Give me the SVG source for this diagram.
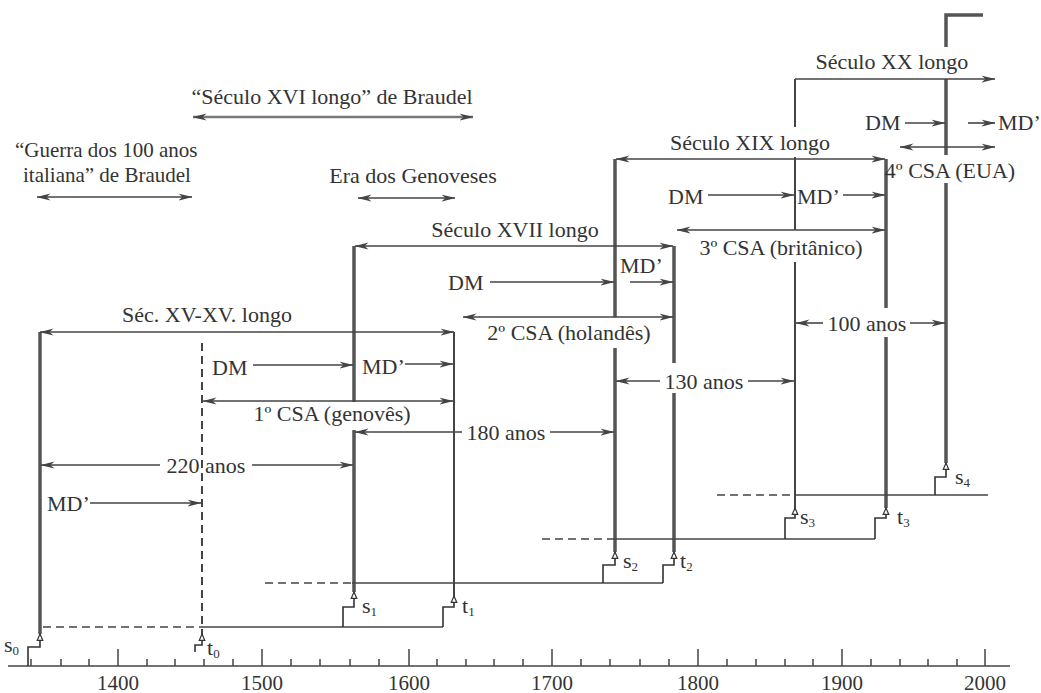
<svg xmlns="http://www.w3.org/2000/svg" width="1041" height="693" viewBox="0 0 1041 693" font-family="'Liberation Serif', 'Times New Roman', serif">
<style>
.t{font-family:"Liberation Serif","Times New Roman",serif;font-size:22px;fill:#333}
.c{text-anchor:middle}
.yr{font-size:21px;text-anchor:middle}
.sm{font-size:21px}
.sub{font-size:13px}
.ar{stroke:#444;stroke-width:1.6;fill:none;marker-end:url(#a)}
.db{stroke:#444;stroke-width:1.6;fill:none;marker-end:url(#a);marker-start:url(#a)}
.ln{stroke:#444;stroke-width:1.6;fill:none}
.dash{stroke-dasharray:8 5}
.thick{stroke:#555;stroke-width:3.5;fill:none}
.thin{stroke:#444;stroke-width:2;fill:none}
.step{stroke:#333;stroke-width:1.6;fill:none;marker-end:url(#u)}
.tk{stroke:#444;stroke-width:1.5}
</style>
<defs>
<marker id="a" viewBox="0 0 14 8" refX="13.5" refY="4" markerWidth="14" markerHeight="8" markerUnits="userSpaceOnUse" orient="auto-start-reverse"><path d="M0,0.5 L14,4 L0,7.5 L4,4 Z" fill="#444"/></marker>
<marker id="u" viewBox="0 0 10 10" refX="9" refY="5" markerWidth="8" markerHeight="8" markerUnits="userSpaceOnUse" orient="auto"><path d="M1,1.5 L9,5 L1,8.5 Z" fill="#fff" stroke="#333" stroke-width="1.5"/></marker>
</defs>
<rect width="1041" height="693" fill="#fff"/>

<g id="axis">
<line class="tk" x1="8" y1="666" x2="1010" y2="666"/>
<g class="tk">
<line x1="31" y1="659" x2="31" y2="666"/><line x1="61" y1="659" x2="61" y2="666"/><line x1="89" y1="659" x2="89" y2="666"/>
<line x1="118" y1="649" x2="118" y2="666"/>
<line x1="147" y1="659" x2="147" y2="666"/><line x1="175" y1="659" x2="175" y2="666"/><line x1="204" y1="659" x2="204" y2="666"/><line x1="233" y1="659" x2="233" y2="666"/>
<line x1="262" y1="649" x2="262" y2="666"/>
<line x1="291" y1="659" x2="291" y2="666"/><line x1="320" y1="659" x2="320" y2="666"/><line x1="350" y1="659" x2="350" y2="666"/><line x1="379" y1="659" x2="379" y2="666"/>
<line x1="409" y1="649" x2="409" y2="666"/>
<line x1="437" y1="659" x2="437" y2="666"/><line x1="466" y1="659" x2="466" y2="666"/><line x1="494" y1="659" x2="494" y2="666"/><line x1="523" y1="659" x2="523" y2="666"/>
<line x1="552" y1="649" x2="552" y2="666"/>
<line x1="581" y1="659" x2="581" y2="666"/><line x1="610" y1="659" x2="610" y2="666"/><line x1="640" y1="659" x2="640" y2="666"/><line x1="669" y1="659" x2="669" y2="666"/>
<line x1="698" y1="649" x2="698" y2="666"/>
<line x1="727" y1="659" x2="727" y2="666"/><line x1="756" y1="659" x2="756" y2="666"/><line x1="785" y1="659" x2="785" y2="666"/><line x1="813" y1="659" x2="813" y2="666"/>
<line x1="842" y1="649" x2="842" y2="666"/>
<line x1="871" y1="659" x2="871" y2="666"/><line x1="900" y1="659" x2="900" y2="666"/><line x1="928" y1="659" x2="928" y2="666"/><line x1="957" y1="659" x2="957" y2="666"/>
<line x1="985" y1="649" x2="985" y2="666"/>
</g>
<text class="t yr" x="118" y="690">1400</text>
<text class="t yr" x="262" y="690">1500</text>
<text class="t yr" x="409" y="690">1600</text>
<text class="t yr" x="552" y="690">1700</text>
<text class="t yr" x="698" y="690">1800</text>
<text class="t yr" x="842" y="690">1900</text>
<text class="t yr" x="985" y="690">2000</text>
</g>

<g id="braudel">
<text class="t c" x="332" y="104">“Século XVI longo” de Braudel</text>
<text class="t sm" x="15" y="157">“Guerra dos 100 anos</text>
<text class="t sm" x="23" y="182">italiana” de Braudel</text>
<text class="t c" x="413" y="183">Era dos Genoveses</text>
</g>

<g id="verticals">
<line class="thick" x1="40" y1="332" x2="40" y2="634"/>
<line class="thin dash" x1="202" y1="343" x2="202" y2="634"/>
<path class="thick" d="M354,246 V402 M354,430 V592"/>
<line class="thin" x1="454" y1="332" x2="454" y2="596"/>
<path class="thick" d="M615,159 V317 M615,348 V552"/>
<path class="thick" d="M674,246 V363 M674,393 V552"/>
<path class="thin" d="M795,79 V127 M795,157 V230 M795,262 V508"/>
<path class="thick" d="M886,159 V308 M886,337 V508"/>
<path class="thick" d="M946,47 V15 H983 M946,79 V155 M946,183 V463"/>
</g>

<g id="baselines">
<line class="ln dash" x1="43" y1="627" x2="202" y2="627"/>
<line class="ln" x1="202" y1="627" x2="443" y2="627"/>
<line class="ln dash" x1="265" y1="583" x2="352" y2="583"/>
<line class="ln" x1="352" y1="583" x2="663" y2="583"/>
<line class="ln dash" x1="542" y1="539" x2="613" y2="539"/>
<line class="ln" x1="613" y1="539" x2="875" y2="539"/>
<line class="ln dash" x1="717" y1="495" x2="795" y2="495"/>
<line class="ln" x1="795" y1="495" x2="988" y2="495"/>
</g>

<g id="crises">
<path class="step" d="M28,666 V647 H40 V634"/>
<path class="step" d="M195,652 V645 H202 V634"/>
<path class="step" d="M343,627 V607 H354 V592"/>
<path class="step" d="M443,627 V607 H454 V596"/>
<path class="step" d="M603,583 V565 H615 V552"/>
<path class="step" d="M663,583 V565 H674 V552"/>
<path class="step" d="M785,539 V518 H795 V508"/>
<path class="step" d="M875,539 V518 H886 V508"/>
<path class="step" d="M935,495 V477 H946 V463"/>
<text class="t" x="4" y="652">s<tspan class="sub" dy="3">0</tspan></text>
<text class="t" x="207" y="655">t<tspan class="sub" dy="3">0</tspan></text>
<text class="t" x="362" y="613">s<tspan class="sub" dy="3">1</tspan></text>
<text class="t" x="462" y="613">t<tspan class="sub" dy="3">1</tspan></text>
<text class="t" x="623" y="568">s<tspan class="sub" dy="3">2</tspan></text>
<text class="t" x="680" y="568">t<tspan class="sub" dy="3">2</tspan></text>
<text class="t" x="800" y="524">s<tspan class="sub" dy="3">3</tspan></text>
<text class="t" x="897" y="524">t<tspan class="sub" dy="3">3</tspan></text>
<text class="t" x="955" y="484">s<tspan class="sub" dy="3">4</tspan></text>
</g>

<g id="cycle-genoves">
<text class="t c" x="207" y="322">Séc. XV-XV. longo</text>
<text class="t" x="212" y="375">DM</text>
<text class="t" x="362" y="374">MD’</text>
<text class="t c" x="332" y="421">1º CSA (genovês)</text>
<text class="t c" x="206" y="473">220 anos</text>
<text class="t" x="47" y="511">MD’</text>
<text class="t c" x="506" y="440">180 anos</text>
</g>

<g id="cycle-holandes">
<text class="t c" x="515" y="237">Século XVII longo</text>
<text class="t" x="448" y="290">DM</text>
<text class="t" x="620" y="273">MD’</text>
<text class="t c" x="569" y="340">2º CSA (holandês)</text>
<text class="t c" x="704" y="389">130 anos</text>
</g>

<g id="cycle-britanico">
<text class="t c" x="750" y="150">Século XIX longo</text>
<text class="t" x="668" y="204">DM</text>
<text class="t" x="797" y="204">MD’</text>
<text class="t c" x="781" y="255">3º CSA (britânico)</text>
<text class="t c" x="867" y="331">100 anos</text>
</g>

<g id="cycle-eua">
<text class="t c" x="892" y="69">Século XX longo</text>
<text class="t" x="865" y="130">DM</text>
<text class="t" x="998" y="130">MD’</text>
<text class="t c" x="950" y="178">4º CSA (EUA)</text>
</g>

<g id="connectors">
<line class="db" x1="193" y1="117" x2="473" y2="117" style="stroke:#777;stroke-width:2.5"/>
<line class="db" x1="37" y1="197" x2="192" y2="197"/>
<line class="db" x1="358" y1="198" x2="455" y2="198"/>

<line class="db" x1="40" y1="332" x2="454" y2="332"/>
<line class="ar" x1="253" y1="365" x2="353" y2="365"/>
<line class="ar" x1="405" y1="364" x2="453" y2="364"/>
<line class="db" x1="203" y1="401" x2="453" y2="401"/>
<line class="ar" x1="160" y1="465" x2="41" y2="465"/>
<line class="ar" x1="252" y1="465" x2="353" y2="465"/>
<line class="ar" x1="90" y1="503" x2="201" y2="503"/>
<line class="ar" x1="462" y1="432" x2="355" y2="432"/>
<line class="ar" x1="550" y1="432" x2="614" y2="432"/>

<line class="db" x1="355" y1="246" x2="673" y2="246"/>
<line class="ar" x1="490" y1="282" x2="614" y2="282"/>
<line class="ar" x1="630" y1="282" x2="673" y2="282"/>
<line class="db" x1="463" y1="317" x2="673" y2="317"/>
<line class="ar" x1="660" y1="381" x2="616" y2="381"/>
<line class="ar" x1="748" y1="381" x2="794" y2="381"/>

<line class="db" x1="616" y1="159" x2="885" y2="159"/>
<line class="ar" x1="708" y1="195" x2="794" y2="195"/>
<line class="ar" x1="843" y1="195" x2="885" y2="195"/>
<line class="db" x1="677" y1="230" x2="885" y2="230"/>
<line class="ar" x1="823" y1="323" x2="796" y2="323"/>
<line class="ar" x1="910" y1="323" x2="945" y2="323"/>

<line class="ar" x1="795" y1="79" x2="995" y2="79"/>
<line class="ar" x1="905" y1="123" x2="945" y2="123"/>
<line class="ar" x1="968" y1="123" x2="995" y2="123"/>
<line class="db" x1="900" y1="147" x2="995" y2="147"/>
</g>
</svg>
